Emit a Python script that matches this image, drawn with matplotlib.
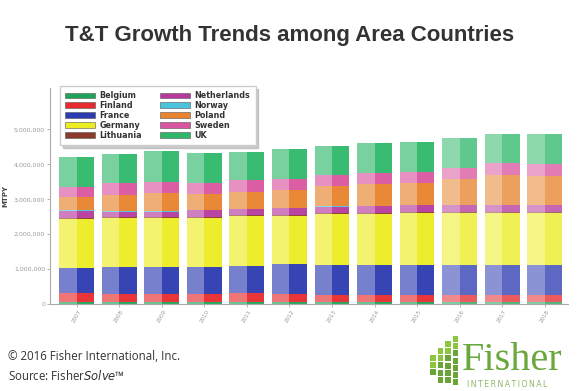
#T&T growth trends stacked bar chart
import numpy as np
import matplotlib.pyplot as plt
from matplotlib.patches import Rectangle
from matplotlib.colors import to_rgb

years = ['2007', '2008', '2009', '2010', '2011', '2012',
         '2013', '2014', '2015', '2016', '2017', '2018']
countries = ['Belgium', 'Finland', 'France', 'Germany', 'Lithuania',
             'Netherlands', 'Norway', 'Poland', 'Sweden', 'UK']

# values in thousand tonnes per year
belgium = [70, 70, 70, 70, 70, 60, 60, 60, 60, 60, 60, 60]
finland = [240, 220, 220, 220, 240, 230, 200, 200, 200, 200, 200, 200]
france = [720, 760, 760, 760, 790, 850, 860, 860, 860, 860, 860, 860]
germany = [1410, 1410, 1410, 1420, 1410, 1390, 1460, 1460, 1480, 1480, 1480, 1480]
lithuania = [30, 30, 30, 30, 30, 30, 30, 30, 30, 30, 30, 30]
netherlands = [200, 160, 160, 180, 180, 190, 180, 200, 200, 200, 210, 210]
norway = [10, 10, 10, 10, 10, 10, 10, 10, 10, 10, 10, 10]
poland = [390, 470, 510, 460, 480, 500, 580, 610, 640, 730, 840, 820]
sweden = [290, 350, 330, 330, 330, 330, 310, 320, 300, 340, 340, 350]
uk = [860, 830, 870, 860, 810, 860, 840, 850, 850, 840, 840, 840]

series = [belgium, finland, france, germany, lithuania,
          netherlands, norway, poland, sweden, uk]
colors = ['#1fa35a', '#e62a2e', '#2c3bb0', '#ecec22', '#8a3b2b',
          '#b53a9c', '#4cc3dc', '#e8832e', '#d9559f', '#2fb86a']

def lighten(c, f):
    r, g, b = to_rgb(c)
    return (r + (1 - r) * f, g + (1 - g) * f, b + (1 - b) * f)

fig = plt.figure(figsize=(5.79, 3.91), dpi=100)
ax = fig.add_axes([0.0864, 0.2225, 0.8946, 0.5535])

x = np.arange(len(years))
w = 0.82
bottom = np.zeros(len(years))
handles = []
for name, vals, c in zip(countries, series, colors):
    v = np.array(vals) * 1000.0
    for i in range(len(years)):
        # later years a bit paler, like in the source picture
        fade = 0.1 if int(years[i]) >= 2016 else 0.0
        ax.bar(x[i] - w / 4, v[i], w / 2, bottom=bottom[i],
               color=lighten(c, 0.35 + fade), linewidth=0)
        ax.bar(x[i] + w / 4, v[i], w / 2, bottom=bottom[i],
               color=lighten(c, 0.05 + fade * 1.8), linewidth=0)
    handles.append(Rectangle((0, 0), 1, 1, facecolor=c, edgecolor='#555555', linewidth=0.4))
    bottom += v

ax.set_xlim(-0.63, 11.55)
ax.set_ylim(0, 6.2e6)
ax.set_xticks(x)
ax.set_xticklabels(years, rotation=60, fontsize=4, color='#777777')
ax.set_yticks([0, 1e6, 2e6, 3e6, 4e6, 5e6])
ax.set_yticklabels(['0', '1,000,000', '2,000,000', '3,000,000', '4,000,000', '5,000,000'],
                   fontsize=4.5, color='#666666')
ax.tick_params(length=2, width=0.5, colors='#999999', pad=1.5)
for s in ['top', 'right']:
    ax.spines[s].set_visible(False)
for s in ['left', 'bottom']:
    ax.spines[s].set_color('#aaaaaa')
    ax.spines[s].set_linewidth(0.8)
ax.set_ylabel('MTPY', fontsize=5, fontweight='bold', color='#444444', labelpad=4)

leg = ax.legend(handles, countries, ncol=2, loc='upper left',
                bbox_to_anchor=(0.019, 1.007), borderaxespad=0,
                prop={'weight': 'bold', 'size': 5.8}, frameon=True, fancybox=False,
                shadow={'color': '#aaaaaa', 'alpha': 0.6}, handlelength=3.7,
                handleheight=0.7, handletextpad=0.6,
                labelspacing=0.1, columnspacing=2.2, borderpad=0.65)
leg.get_frame().set_edgecolor('#cccccc')
for t in leg.get_texts():
    t.set_color('#333333')

fig.text(0.5, 0.895, 'T&T Growth Trends among Area Countries', ha='center', va='baseline',
         fontsize=16, fontweight='bold', color='#333333', family='Liberation Sans')

fig.text(0.014, 0.079, '\u00a9 2016 Fisher International, Inc.', fontsize=8.3,
         color='#333333', family='Open Sans')
fig.text(0.014, 0.027, 'Source: Fisher$\\it{Solve}$\u2122', fontsize=8.3,
         color='#333333', family='Open Sans')

# logo: staircase of green squares
sq = 5.5 / 579
cols = [(0, 355, 3), (1, 348, 5), (2, 341, 6), (3, 336, 7)]
for ci, ytop, n in cols:
    for r in range(n):
        lx = (430 + ci * 7.5) / 579
        ly = (391 - (ytop + r * 7.2) - 6) / 391
        shade = '#8cc63f' if r < 2 else '#6aa336'
        fig.add_artist(Rectangle((lx, ly), sq, 6 / 391, transform=fig.transFigure,
                                 facecolor=shade, edgecolor='none'))
fig.text(0.797, 0.054, 'Fisher', fontsize=29, color='#6aa83e', family='Liberation Serif')
fig.text(0.806, 0.01, '\u2009'.join('INTERNATIONAL'), fontsize=5.6, color='#8cb86a')

fig.savefig('out.png', dpi=100)
